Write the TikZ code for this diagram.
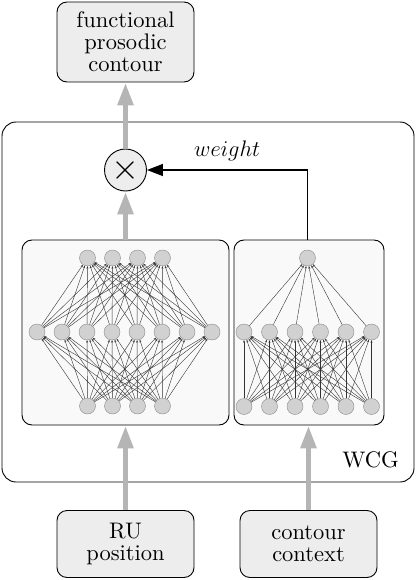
\RequirePackage{fix-cm}
\documentclass[tikz,border=0pt]{standalone}
\usepackage{fontspec}
\setmainfont{lmroman10-regular}[Extension=.otf, ItalicFont=lmroman10-italic, BoldFont=lmroman10-bold]
\usepackage{xcolor}
\usepackage{tikz}
\usetikzlibrary{positioning,arrows.meta}

\definecolor{boxgray}{gray}{0.93}
\definecolor{flowgray}{gray}{0.71}
\definecolor{netgray}{gray}{0.975}
\definecolor{unitgray}{gray}{0.82}

\begin{document}
\begin{tikzpicture}[
    x=1pt, y=-1pt,
    font=\fontsize{22.5}{22}\selectfont,
    box/.style={
        draw,
        rounded corners=10pt,
        fill=boxgray,
        align=center,
        line width=0.9pt,
        minimum width=137pt,
        minimum height=67pt,
        inner sep=0pt
    },
    net/.style={
        draw,
        rounded corners=10pt,
        fill=netgray,
        line width=0.9pt
    },
    unit/.style={
        circle,
        fill=unitgray,
        draw=black!45,
        line width=0.4pt,
        minimum size=16pt,
        inner sep=0pt
    },
    link/.style={
        -{Stealth[length=2.5pt,width=2pt]},
        line width=0.4pt,
        black!80
    },
    flow/.style={
        -{Triangle[width=15pt,length=23pt]},
        line width=5.6pt,
        flowgray
    },
    arrow/.style={
        -{Triangle[width=12pt,length=16pt]},
        line width=1.3pt
    }
]
\useasboundingbox (0,0) rectangle (417,580);

\node[draw, rounded corners=14pt, line width=0.9pt, minimum width=412pt, minimum height=360pt] (wcg) at (208,302) {};
\node[anchor=base] (wcglabel) at (370.5,467) {WCG};

\node[box, minimum height=80pt] (output) at (125.5,42) {functional\\prosodic\\contour};
\node[box] (rupos) at (125.5,544) {RU\\position};
\node[box] (context) at (308.5,544) {contour\\context};

\node[circle, draw, fill=boxgray, line width=0.9pt, minimum size=42pt, inner sep=0pt] (mult) at (125.5,170) {\fontsize{36}{36}\selectfont$\times$};

\node[net, minimum width=207pt, minimum height=185pt] (leftnet) at (125.5,332.5) {};
\node[net, minimum width=150pt, minimum height=185pt] (rightnet) at (309,332.5) {};

% left network
\foreach \i in {0,...,3} {
    \node[unit] (lt\i) at (87.5+25*\i,258) {};
    \node[unit] (lb\i) at (87.5+25*\i,406) {};
}
\foreach \j in {0,...,7}
    \node[unit] (lm\j) at (37+25*\j,332) {};
\foreach \i in {0,...,3}
    \foreach \j in {0,...,7} {
        \draw[link] (lm\j) -- (lt\i);
        \draw[link] (lb\i) -- (lm\j);
    }

% right network
\node[unit] (rt) at (307.5,258) {};
\foreach \j in {0,...,5} {
    \node[unit] (rm\j) at (244+25.5*\j,332) {};
    \node[unit] (rb\j) at (244+25.5*\j,406.5) {};
}
\foreach \j in {0,...,5} {
    \draw[link] (rm\j) -- (rt);
    \foreach \i in {0,...,5}
        \draw[link] (rb\i) -- (rm\j);
}

\draw[flow] (mult) -- (output);
\draw[flow] (leftnet) -- (mult);
\draw[flow] (rupos) -- (leftnet);
\draw[flow] (context.north) -- (context.north |- rightnet.south);
\draw[arrow] (rightnet.north -| rt) |- (mult) node[pos=0.75, above=8pt, inner sep=0pt] {$weight$};

\end{tikzpicture}
\end{document}
